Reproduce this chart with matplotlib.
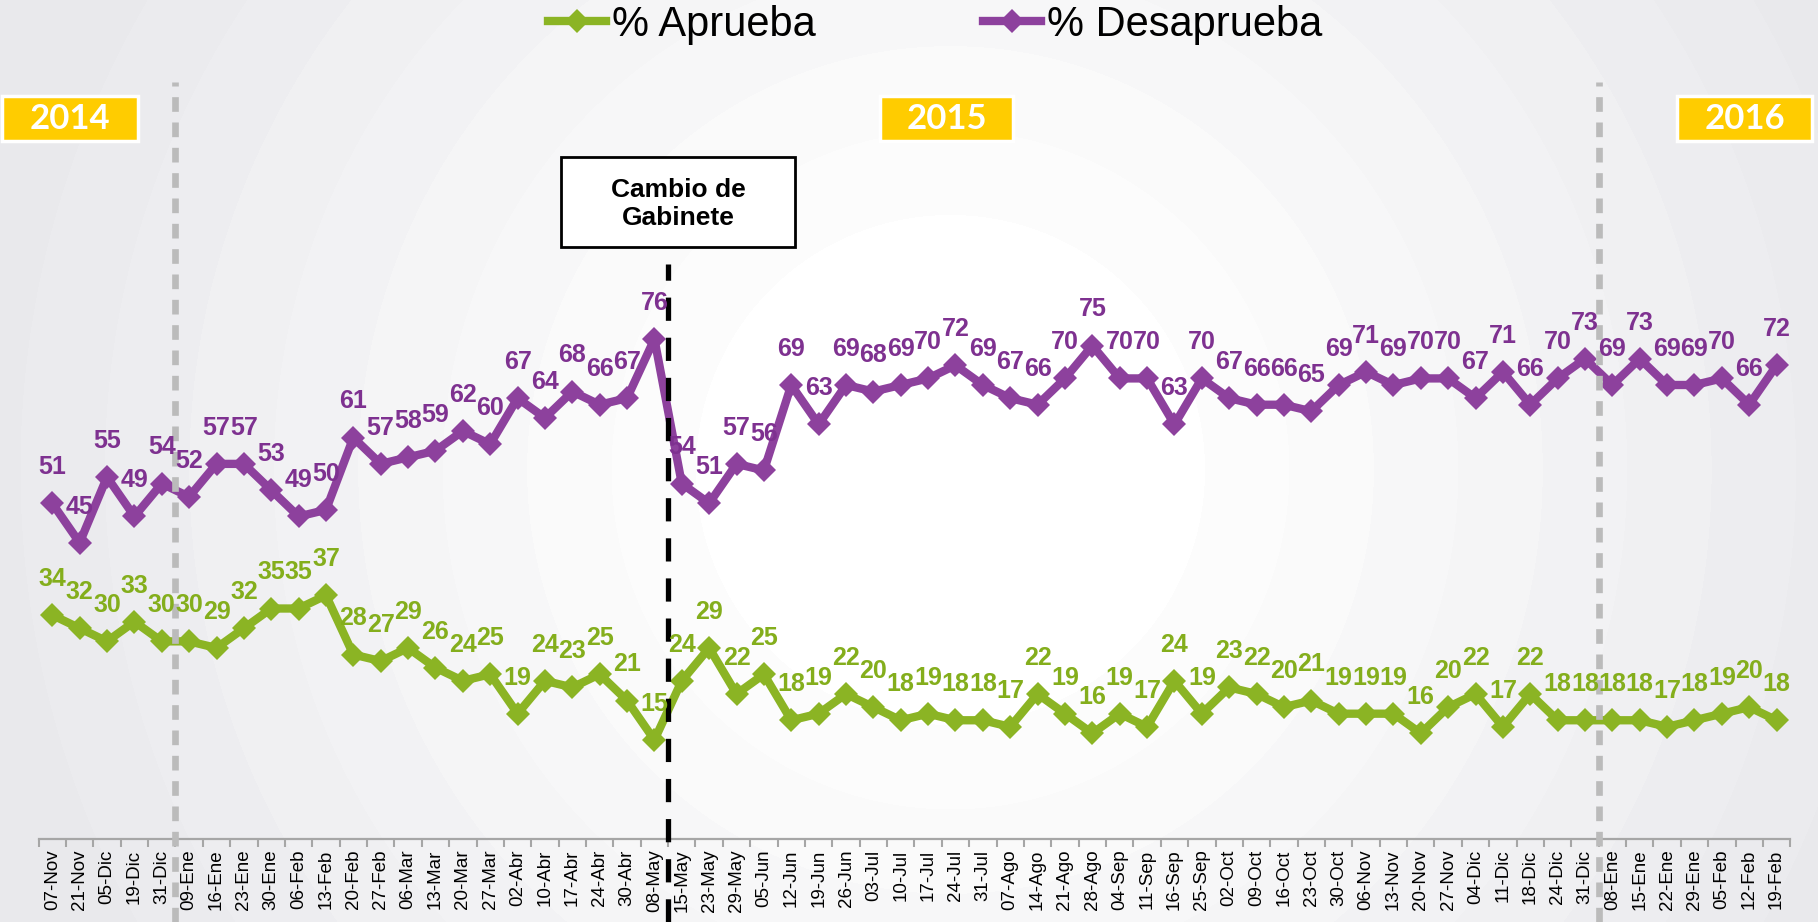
import numpy as np
import matplotlib
matplotlib.use('Agg')
import matplotlib.pyplot as plt
from matplotlib.patches import Rectangle

fechas = ['07-Nov', '21-Nov', '05-Dic', '19-Dic', '31-Dic', '09-Ene', '16-Ene', '23-Ene',
          '30-Ene', '06-Feb', '13-Feb', '20-Feb', '27-Feb', '06-Mar', '13-Mar', '20-Mar',
          '27-Mar', '02-Abr', '10-Abr', '17-Abr', '24-Abr', '30-Abr', '08-May', '15-May',
          '23-May', '29-May', '05-Jun', '12-Jun', '19-Jun', '26-Jun', '03-Jul', '10-Jul',
          '17-Jul', '24-Jul', '31-Jul', '07-Ago', '14-Ago', '21-Ago', '28-Ago', '04-Sep',
          '11-Sep', '16-Sep', '25-Sep', '02-Oct', '09-Oct', '16-Oct', '23-Oct', '30-Oct',
          '06-Nov', '13-Nov', '20-Nov', '27-Nov', '04-Dic', '11-Dic', '18-Dic', '24-Dic',
          '31-Dic', '08-Ene', '15-Ene', '22-Ene', '29-Ene', '05-Feb', '12-Feb', '19-Feb']

aprueba = [34, 32, 30, 33, 30, 30, 29, 32, 35, 35, 37, 28, 27, 29, 26, 24, 25, 19, 24, 23,
           25, 21, 15, 24, 29, 22, 25, 18, 19, 22, 20, 18, 19, 18, 18, 17, 22, 19, 16, 19,
           17, 24, 19, 23, 22, 20, 21, 19, 19, 19, 16, 20, 22, 17, 22, 18, 18, 18, 18, 17,
           18, 19, 20, 18]

desaprueba = [51, 45, 55, 49, 54, 52, 57, 57, 53, 49, 50, 61, 57, 58, 59, 62, 60, 67, 64, 68,
              66, 67, 76, 54, 51, 57, 56, 69, 63, 69, 68, 69, 70, 72, 69, 67, 66, 70, 75, 70,
              70, 63, 70, 67, 66, 66, 65, 69, 71, 69, 70, 70, 67, 71, 66, 70, 73, 69, 73, 69,
              69, 70, 66, 72]

anios = ['2014', '2015', '2016']
series_nombres = ['% Aprueba', '% Desaprueba']
evento = 'Cambio de\nGabinete'
fecha_evento = '15-May'

W, H, DPI = 1818, 922, 100
VERDE, VERDE_TXT = '#8BB424', '#84AE1C'
MORADO, MORADO_TXT = '#8D419D', '#7E3190'
AMARILLO = '#FFCC00'
ETIQ_FONT = ['Liberation Sans Narrow', 'Liberation Sans']

# pixel helpers (pixels measured from top-left)
def fx(px):
    return px / W

def fy(py):
    return 1 - py / H

fig = plt.figure(figsize=(W / DPI, H / DPI), dpi=DPI)

# stepped radial background
bg = fig.add_axes([0, 0, 1, 1], zorder=-10)
yy, xx = np.mgrid[0:H, 0:W]
r = np.hypot(xx - 950, yy - 470)
t = np.clip((r - 170) / 760, 0, 1)
t = np.floor(t * 9) / 9
borde = np.array([233, 233, 236]) / 255
img = (1 - t[..., None]) * 1.0 + t[..., None] * borde
bg.imshow(img, aspect='auto', interpolation='nearest')
bg.axis('off')

# main axes: y=0 sits at pixel 838.6, 6.574 px per unit, 27.37 px per category
n = len(fechas)
y0_px, px_unit, cat_px, left_px = 838.6, 6.574, 27.37, 38.6
ax = fig.add_axes([fx(left_px), fy(y0_px), n * cat_px / W, y0_px / H])
ax.patch.set_alpha(0)
x = np.arange(n)
ax.set_xlim(-0.5, n - 0.5)
ax.set_ylim(0, y0_px / px_unit)
y_bottom = -(H - y0_px) / px_unit

l1, = ax.plot(x, aprueba, color=VERDE, lw=6, marker='D', ms=12, mec=VERDE, mew=0,
              solid_joinstyle='round', zorder=3)
l2, = ax.plot(x, desaprueba, color=MORADO, lw=6, marker='D', ms=12, mec=MORADO, mew=0,
              solid_joinstyle='round', zorder=3)

for serie, col in ((aprueba, VERDE_TXT), (desaprueba, MORADO_TXT)):
    for xi, v in zip(x, serie):
        ax.annotate(str(v), (xi, v), xytext=(0, 26), textcoords='offset points',
                    ha='center', va='center', color=col, fontsize=18,
                    fontweight='bold', family=ETIQ_FONT, zorder=6)

# year change separators
cortes = [i + 0.5 for i in range(n - 1)
          if fechas[i].endswith('Dic') and fechas[i + 1].endswith('Ene')]
for xc in cortes:
    ax.plot([xc, xc], [y_bottom, (y0_px - 82) / px_unit], color='#BBBBBB', lw=4.8,
            dashes=(2.2, 1.6), clip_on=False, zorder=4)

xe = fechas.index(fecha_evento) - 0.5
ax.plot([xe, xe], [y_bottom, (y0_px - 264) / px_unit], color='black', lw=3.8,
        dashes=(4.4, 3.2), clip_on=False, zorder=4)

# x axis styling
for s in ('left', 'right', 'top'):
    ax.spines[s].set_visible(False)
ax.spines['bottom'].set_color('#A6A6A6')
ax.spines['bottom'].set_linewidth(1.6)
ax.set_yticks([])
ax.set_xticks(x)
ax.set_xticklabels(fechas, rotation=90, fontsize=13.5, family='Liberation Sans')
ax.tick_params(axis='x', which='major', length=0, pad=8)
ax.set_xticks(np.arange(-0.5, n), minor=True)
ax.tick_params(axis='x', which='minor', length=6, width=1.5, color='#A6A6A6')

# year boxes
cajas = [(2, 138), (880, 1013), (1677, 1812)]
for anio, (x1, x2) in zip(anios, cajas):
    fig.add_artist(Rectangle((fx(x1), fy(141)), (x2 - x1) / W, 45 / H,
                             transform=fig.transFigure, facecolor=AMARILLO,
                             edgecolor='white', lw=2.5, zorder=5))
    fig.text(fx((x1 + x2) / 2), fy(119), anio, ha='center', va='center', color='white',
             fontsize=25, fontweight='bold', family='Lato', zorder=6)

# event box
fig.add_artist(Rectangle((fx(561), fy(247)), 234 / W, 90 / H, transform=fig.transFigure,
                         facecolor='white', edgecolor='black', lw=2, zorder=7))
fig.text(fx(678), fy(204), evento, ha='center', va='center', fontsize=19,
         fontweight='bold', family='Liberation Sans', linespacing=1.2, zorder=8)

fig.legend([l1, l2], series_nombres, loc='center', bbox_to_anchor=(fx(935), fy(25)),
           ncol=2, frameon=False, prop={'family': 'Liberation Sans', 'size': 30},
           handlelength=1.4, handletextpad=0.15, columnspacing=4.0, borderpad=0)

fig.savefig('out.png', dpi=DPI)
